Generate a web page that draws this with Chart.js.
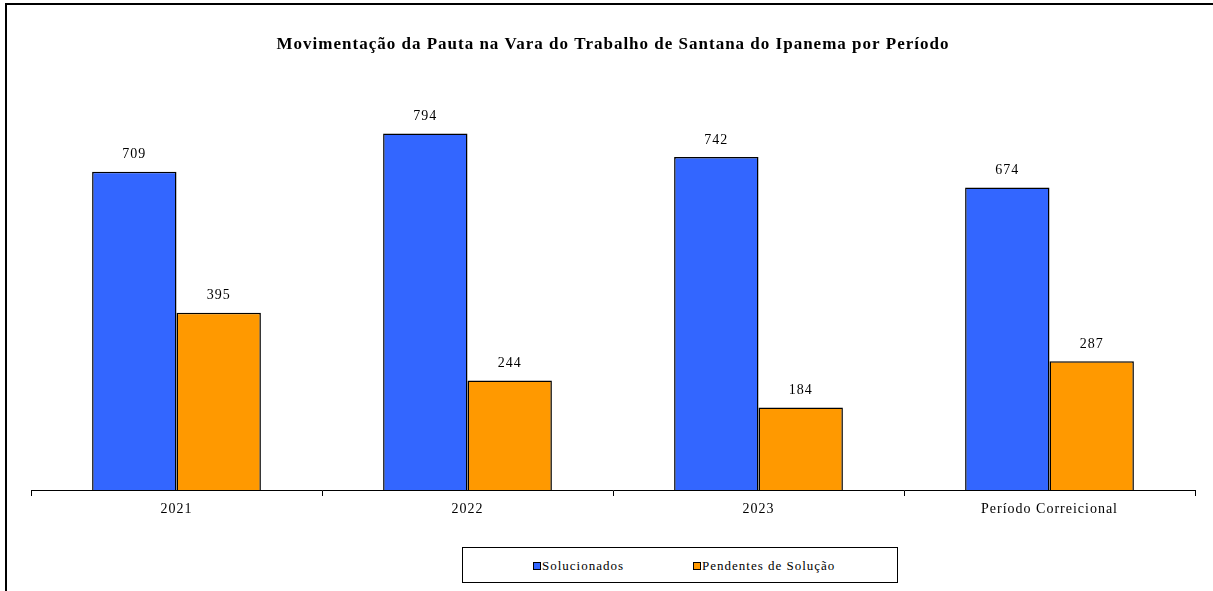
<!DOCTYPE html>
<html>
<head>
<meta charset="utf-8">
<script src="https://cdn.jsdelivr.net/npm/chart.js@4"></script>
<style>
  body { margin: 0; background: #fff; }
  #wrap { position: relative; width: 1213px; height: 591px; overflow: hidden; }
  #frame { position: absolute; left: 5px; top: 3px; width: 1300px; height: 700px;
    border-left: 2px solid #000; border-top: 2px solid #000; }
  canvas { position: absolute; left: 0; top: 0; }
  #legend { position: absolute; left: 462px; top: 547px; width: 434px; height: 34px;
    border: 1px solid #000; background: #fff; font-family: 'Liberation Serif', serif;
    font-size: 13px; letter-spacing: 1px; }
  #legend span.item { position: absolute; top: 10px; white-space: nowrap; }
  #legend i { display: inline-block; width: 6px; height: 6px; border: 1px solid #000;
    margin-right: 1px; vertical-align: 0px; }
</style>
</head>
<body>
<div id="wrap">
  <div id="frame"></div>
  <canvas id="chart" width="1213" height="591"></canvas>
  <div id="legend"></div>
</div>
<script>
'use strict';

const categories = ['2021', '2022', '2023', 'Período Correicional'];
const solucionados = [709, 794, 742, 674];
const pendentes = [395, 244, 184, 287];
const seriesNames = ['Solucionados', 'Pendentes de Solução'];
const seriesColors = ['#3366FF', '#FF9900'];

const canvasEl = document.getElementById('chart');

// wider letter spacing, like the original export
const spacing = {
  id: 'spacing',
  beforeDraw(chart) {
    chart.ctx.letterSpacing = '1px';
  }
};

// labels above every bar
const valueLabels = {
  id: 'valueLabels',
  afterDatasetsDraw(chart) {
    const ctx = chart.ctx;
    ctx.save();
    ctx.font = '14px "Liberation Serif"';
    ctx.fillStyle = '#000';
    ctx.textAlign = 'center';
    ctx.textBaseline = 'middle';
    chart.data.datasets.forEach((ds, i) => {
      chart.getDatasetMeta(i).data.forEach((bar, j) => {
        ctx.fillText(ds.data[j], bar.x, bar.y - 17);
      });
    });
    ctx.restore();
  }
};

let chartObj = new Chart(canvasEl, {
  type: 'bar',
  data: {
    labels: categories,
    datasets: [{
      label: seriesNames[0],
      data: solucionados,
      backgroundColor: seriesColors[0],
      borderColor: '#000',
      borderWidth: 1.5
    }, {
      label: seriesNames[1],
      data: pendentes,
      backgroundColor: seriesColors[1],
      borderColor: '#000',
      borderWidth: 1.5
    }]
  },
  options: {
    responsive: false,
    animation: false,
    layout: { padding: { left: 31, right: 18, top: 0, bottom: 61 } },
    datasets: { bar: { categoryPercentage: 0.58, barPercentage: 1 } },
    plugins: {
      legend: { display: false },
      tooltip: { enabled: false },
      title: {
        display: true,
        text: 'Movimentação da Pauta na Vara do Trabalho de Santana do Ipanema por Período',
        color: '#000',
        font: { family: 'Liberation Serif', size: 17, weight: 'bold' },
        padding: { top: 34, bottom: 31.6 }
      }
    },
    scales: {
      x: {
        afterFit(scale) { scale.height = 40; },
        border: { display: true, color: '#000', width: 1 },
        grid: { offset: true, drawOnChartArea: false, drawTicks: true, tickLength: 6, color: '#000' },
        ticks: { color: '#000', padding: 5, font: { family: 'Liberation Serif', size: 14 } }
      },
      y: {
        display: false,
        min: 0,
        max: 900
      }
    }
  },
  plugins: [spacing, valueLabels]
});

// legend box under the chart
const legendEl = document.getElementById('legend');
const legendLeft = [70, 230];
chartObj.data.datasets.forEach((ds, i) => {
  let item = document.createElement('span');
  item.className = 'item';
  item.style.left = legendLeft[i] + 'px';
  item.innerHTML = '<i style="background:' + ds.backgroundColor + '"></i>' + ds.label;
  legendEl.appendChild(item);
});
</script>
</body>
</html>
